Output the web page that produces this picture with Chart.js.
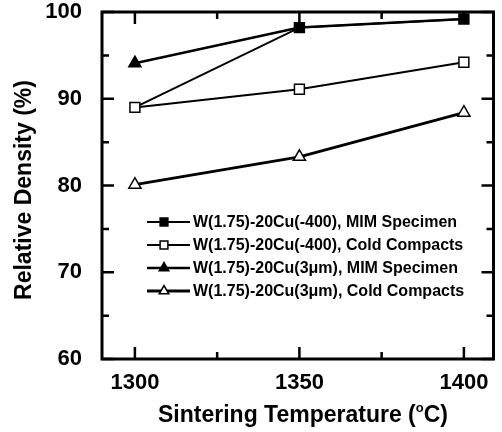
<!DOCTYPE html>
<html>
<head>
<meta charset="utf-8">
<script src="https://cdn.jsdelivr.net/npm/chart.js@4.4.1/dist/chart.umd.min.js"></script>
<style>
  html, body { margin: 0; padding: 0; background: #fff; }
  #wrap { width: 502px; height: 432px; }
</style>
</head>
<body>
<div id="wrap"><canvas id="densityChart" width="502" height="432"></canvas></div>
<script>
// sintering temperature (°C)
const temps = [1300, 1350, 1400];
// relative density (%)
const mim400 = [89, 98.2, 99.2];
const cold400 = [89, 91.1, 94.2];
const mim3um = [94.1, 98.2, 99.2];
const cold3um = [80.1, 83.3, 88.4];

const seriesLabels = [
  'W(1.75)-20Cu(-400), MIM Specimen',
  'W(1.75)-20Cu(-400), Cold Compacts',
  'W(1.75)-20Cu(3\u03bcm), MIM Specimen',
  'W(1.75)-20Cu(3\u03bcm), Cold Compacts'
];
const xTickValues = [1300, 1325, 1350, 1375, 1400];
const xTickLabels = ['1300', '', '1350', '', '1400'];
const yTickValues = [60, 65, 70, 75, 80, 85, 90, 95, 100];
const yTickLabels = ['60', '', '70', '', '80', '', '90', '', '100'];

const FONT = '"Liberation Sans", Arial, sans-serif';

function pts(vals) {
  return temps.map((t, i) => ({ x: t, y: vals[i] }));
}

// frame, inward ticks, legend and axis titles
const decor = {
  id: 'decor',
  afterDraw(chart) {
    const { ctx, chartArea: a, scales } = chart;
    const xs = scales.x, ys = scales.y;
    ctx.save();
    ctx.strokeStyle = '#000';
    ctx.lineWidth = 3;
    ctx.strokeRect(a.left, a.top, a.right - a.left, a.bottom - a.top);

    ctx.lineWidth = 2.5;
    ctx.beginPath();
    xTickValues.forEach((v, i) => {
      const px = xs.getPixelForValue(v);
      const len = xTickLabels[i] ? 12 : 7;
      ctx.moveTo(px, a.bottom); ctx.lineTo(px, a.bottom - len);
      ctx.moveTo(px, a.top); ctx.lineTo(px, a.top + len);
    });
    yTickValues.forEach((v, i) => {
      const py = ys.getPixelForValue(v);
      const len = yTickLabels[i] ? 12 : 7;
      ctx.moveTo(a.left, py); ctx.lineTo(a.left + len, py);
      ctx.moveTo(a.right, py); ctx.lineTo(a.right - len, py);
    });
    ctx.stroke();

    // legend
    ctx.font = 'bold 16px ' + FONT;
    ctx.textBaseline = 'middle';
    ctx.textAlign = 'left';
    chart.data.datasets.forEach((ds, i) => {
      const y = 222 + i * 23;
      ctx.strokeStyle = '#000';
      ctx.lineWidth = ds.borderWidth;
      ctx.beginPath();
      ctx.moveTo(147, y); ctx.lineTo(190, y);
      ctx.stroke();
      ctx.fillStyle = ds.pointBackgroundColor;
      ctx.strokeStyle = '#000';
      ctx.lineWidth = 1.5;
      Chart.helpers.drawPoint(ctx, { pointStyle: ds.pointStyle, rotation: 0, radius: 5.5, borderWidth: 1.5 }, 164, y);
      ctx.fillStyle = '#000';
      ctx.fillText(ds.label, 193, y + 1);
    });

    // axis titles
    ctx.fillStyle = '#000';
    ctx.font = 'bold 23px ' + FONT;
    ctx.textAlign = 'left';
    ctx.textBaseline = 'alphabetic';
    const t1 = 'Sintering Temperature (', t2 = 'C)';
    const w1 = ctx.measureText(t1).width, w2 = ctx.measureText(t2).width;
    ctx.font = 'bold 13px ' + FONT;
    const wo = ctx.measureText('o').width;
    const x0 = 303 - (w1 + wo + w2) / 2;
    ctx.font = 'bold 23px ' + FONT;
    ctx.fillText(t1, x0, 422);
    ctx.fillText(t2, x0 + w1 + wo, 422);
    ctx.font = 'bold 13px ' + FONT;
    ctx.fillText('o', x0 + w1, 412);

    ctx.font = 'bold 23px ' + FONT;
    ctx.textAlign = 'center';
    ctx.textBaseline = 'middle';
    ctx.save();
    ctx.translate(25, 190);
    ctx.rotate(-Math.PI / 2);
    ctx.fillText('Relative Density (%)', 0, 0);
    ctx.restore();
    ctx.restore();
  }
};

const common = { borderColor: '#000', pointBorderColor: '#000', pointBorderWidth: 1.5, tension: 0 };

new Chart(document.getElementById('densityChart').getContext('2d'), {
  type: 'line',
  data: {
    datasets: [
      { ...common, label: seriesLabels[0], order: 2, data: pts(mim400), borderWidth: 2, pointStyle: 'rect', pointRadius: [0, 7, 7], pointBackgroundColor: '#000' },
      { ...common, label: seriesLabels[1], order: 0, data: pts(cold400), borderWidth: 2, pointStyle: 'rect', pointRadius: 7, pointBackgroundColor: '#fff' },
      { ...common, label: seriesLabels[2], order: 3, data: pts(mim3um), borderWidth: 2.5, pointStyle: 'triangle', pointRadius: [7, 0, 0], pointBackgroundColor: '#000' },
      { ...common, label: seriesLabels[3], order: 1, data: pts(cold3um), borderWidth: 3, pointStyle: 'triangle', pointRadius: 7, pointBackgroundColor: '#fff' }
    ]
  },
  options: {
    responsive: false,
    animation: false,
    layout: { padding: { left: 0, top: 12, right: 8, bottom: 0 } },
    plugins: { legend: { display: false }, tooltip: { enabled: false } },
    scales: {
      x: {
        type: 'linear',
        min: 1290,
        max: 1409,
        afterBuildTicks: s => { s.ticks = xTickValues.map(v => ({ value: v })); },
        afterFit: s => { s.height = 73; s.paddingLeft = 0; s.paddingRight = 0; },
        grid: { display: false },
        border: { display: false },
        ticks: {
          autoSkip: false,
          maxRotation: 0,
          padding: 3,
          color: '#000',
          font: { family: FONT, size: 22, weight: 'bold' },
          callback: v => xTickLabels[xTickValues.indexOf(v)]
        }
      },
      y: {
        min: 60,
        max: 100,
        afterBuildTicks: s => { s.ticks = yTickValues.map(v => ({ value: v })); },
        afterFit: s => { s.width = 102; s.paddingTop = 0; s.paddingBottom = 0; },
        grid: { display: false },
        border: { display: false },
        ticks: {
          autoSkip: false,
          padding: 12,
          color: '#000',
          font: { family: FONT, size: 22, weight: 'bold' },
          callback: v => yTickLabels[yTickValues.indexOf(v)]
        }
      }
    }
  },
  plugins: [decor]
});
</script>
</body>
</html>
